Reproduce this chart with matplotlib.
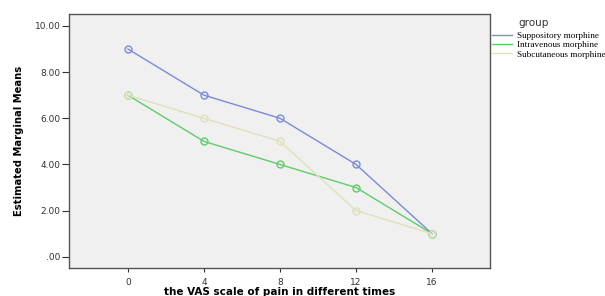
import numpy as np
from matplotlib import pyplot as plt

times = [0, 4, 8, 12, 16]
suppository = [9, 7, 6, 4, 1]
intravenous = [7, 5, 4, 3, 1]
subcutaneous = [7, 6, 5, 2, 1]
groups = ['Suppository morphine', 'Intravenous morphine', 'Subcutaneous morphine']
colors = ['#7b8bd6', '#5fcc68', '#e2dfb8']

fig = plt.figure(figsize=(6.05, 2.96), dpi=100)
ax = fig.add_axes([0.114, 0.095, 0.696, 0.858])
ax.set_facecolor('#f0f0f0')

for vals, c, name in zip([suppository, intravenous, subcutaneous], colors, groups):
    ax.plot(times, vals, '-o', color=c, lw=1.0, ms=5, mfc='none', mew=1.0, label=name)

ax.set_xlim(-3.1, 19.05)
ax.set_ylim(-0.48, 10.52)
ax.set_xticks(times)
ax.set_yticks([0, 2, 4, 6, 8, 10])
ax.set_yticklabels(['.00', '2.00', '4.00', '6.00', '8.00', '10.00'])
ax.tick_params(axis='y', labelsize=6.5, length=5, width=0.8, pad=1, colors='#333333')
ax.tick_params(axis='x', labelsize=6.5, length=3, width=0.8, pad=4, colors='#333333')
for s in ax.spines.values():
    s.set_color('#555555')
    s.set_linewidth(1.0)

ax.set_ylabel('Estimated Marginal Means', fontsize=8, fontweight='bold', fontstretch='condensed', labelpad=8)
ax.set_xlabel('the VAS scale of pain in different times', fontsize=7.5, fontweight='bold', labelpad=0)

leg = ax.legend(loc='upper left', bbox_to_anchor=(1.0, 0.938), frameon=False,
                prop={'family': 'Liberation Serif', 'size': 6.6}, handlelength=2.2,
                handletextpad=0.5, labelspacing=0.1, borderaxespad=0.0, borderpad=0.2)
for h in leg.legend_handles:
    h.set_marker('')
fig.text(518 / 605, 1 - 23 / 296, 'group', fontsize=7.5, color='#333333', va='center', ha='left')

fig.savefig('out.png', dpi=100)
